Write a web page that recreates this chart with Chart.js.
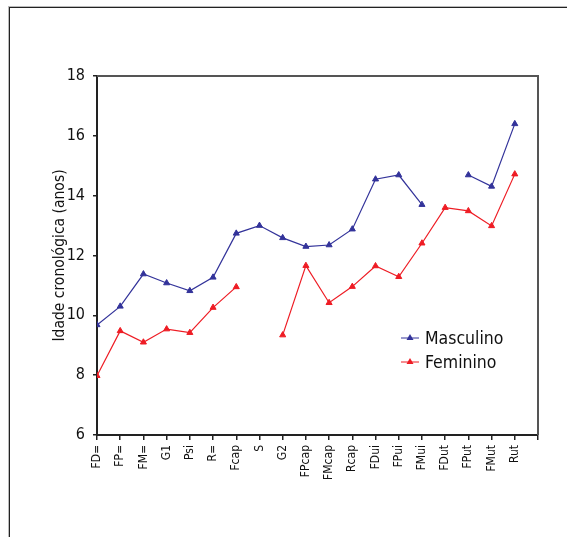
<!DOCTYPE html>
<html>
<head>
<meta charset="utf-8">
<script src="https://cdn.jsdelivr.net/npm/chart.js@4.4.1/dist/chart.umd.min.js"></script>
<style>
  html, body { margin: 0; padding: 0; background: #fff; overflow: hidden; }
  #wrap { position: relative; width: 567px; height: 537px; }
  #frame { position: absolute; left: 9px; top: 7px; width: 600px; height: 600px;
           border: 1px solid #222; box-shadow: -1px -1px 0 #bbb; }
  canvas { position: absolute; left: 0; top: 0; }
</style>
</head>
<body>
<div id="wrap">
  <div id="frame"></div>
  <canvas id="idadeChart" width="567" height="537"></canvas>
</div>
<script>
const categorias = ["FD=", "FP=", "FM=", "G1", "Psi", "R=", "Fcap", "S", "G2", "FPcap",
    "FMcap", "Rcap", "FDui", "FPui", "FMui", "FDut", "FPut", "FMut", "Rut"];

const masculino = [9.68, 10.3, 11.38, 11.08, 10.82, 11.27, 12.74, 13.0, 12.59, 12.3,
    12.35, 12.88, 14.55, 14.69, 13.7, null, 14.69, 14.31, 16.4];

const feminino = [7.98, 9.48, 9.1, 9.54, 9.42, 10.26, 10.95, null, 9.34, 11.66,
    10.42, 10.96, 11.65, 11.29, 12.41, 13.6, 13.49, 12.99, 14.72];

const yTicks = [6, 8, 10, 12, 14, 16, 18];

const fonte = '"Liberation Sans Narrow", "DejaVu Sans Condensed", Arial, sans-serif';

const azul = '#33339a';
const vermelho = '#ee1c24';

// moldura do grafico (topo e direita)
const molduraPlugin = {
    id: 'moldura',
    beforeDatasetsDraw: (chart) => {
        const { ctx, chartArea: { left, right, top, bottom } } = chart;
        ctx.save();
        ctx.strokeStyle = '#555';
        ctx.lineWidth = 2;
        ctx.beginPath();
        ctx.moveTo(left, top);
        ctx.lineTo(right, top);
        ctx.lineTo(right, bottom);
        ctx.stroke();
        ctx.restore();
    }
};

// legenda dentro da area do grafico
const legendaPlugin = {
    id: 'legendaInterna',
    afterDraw: (chart) => {
        const { ctx } = chart;
        const itens = chart.data.datasets;
        const x0 = 401, y0 = 338, passo = 24;
        ctx.save();
        itens.forEach((ds, i) => {
            const y = y0 + i * passo;
            ctx.strokeStyle = ds.borderColor;
            ctx.lineWidth = 1;
            ctx.beginPath();
            ctx.moveTo(x0, y);
            ctx.lineTo(x0 + 18, y);
            ctx.stroke();
            ctx.fillStyle = ds.borderColor;
            ctx.beginPath();
            ctx.moveTo(x0 + 9, y - 4);
            ctx.lineTo(x0 + 12.5, y + 2);
            ctx.lineTo(x0 + 5.5, y + 2);
            ctx.closePath();
            ctx.fill();
            ctx.fillStyle = '#111';
            ctx.font = '17.5px ' + fonte;
            ctx.textBaseline = 'middle';
            ctx.fillText(ds.label, x0 + 24, y + 1);
        });
        ctx.restore();
    }
};

const ctx = document.getElementById('idadeChart').getContext('2d');

const idadeChart = new Chart(ctx, {
    type: 'line',
    data: {
        labels: categorias,
        datasets: [
            {
                label: 'Masculino',
                data: masculino.map((v, i) => ({ x: i, y: v })),
                borderColor: azul,
                backgroundColor: azul,
                borderWidth: 1.2,
                pointStyle: 'triangle',
                pointRadius: 3.5,
                pointBorderWidth: 1,
                tension: 0,
                spanGaps: false
            },
            {
                label: 'Feminino',
                data: feminino.map((v, i) => ({ x: i, y: v })),
                borderColor: vermelho,
                backgroundColor: vermelho,
                borderWidth: 1.2,
                pointStyle: 'triangle',
                pointRadius: 3.5,
                pointBorderWidth: 1,
                tension: 0,
                spanGaps: false
            }
        ]
    },
    options: {
        responsive: false,
        animation: false,
        layout: { padding: { top: 76, right: 29, left: 0, bottom: 0 } },
        plugins: {
            legend: { display: false },
            tooltip: { enabled: false }
        },
        scales: {
            x: {
                type: 'linear',
                min: 0,
                max: 19,
                afterBuildTicks: (scale) => {
                    scale.ticks = categorias.map((c, i) => ({ value: i })).concat([{ value: 19 }]);
                },
                afterFit: (scale) => { scale.height = 102; },
                grid: {
                    drawOnChartArea: false,
                    drawTicks: true,
                    tickLength: 5,
                    color: '#222',
                    lineWidth: 1.5
                },
                border: { color: '#222', width: 2 },
                ticks: {
                    autoSkip: false,
                    maxRotation: 90,
                    minRotation: 90,
                    padding: 5,
                    color: '#111',
                    font: { family: fonte, size: 12 },
                    callback: (v) => categorias[v] || ''
                }
            },
            y: {
                min: 6,
                max: 18,
                afterBuildTicks: (scale) => {
                    scale.ticks = yTicks.map(v => ({ value: v }));
                },
                afterFit: (scale) => { scale.width = 97; },
                grid: {
                    drawOnChartArea: false,
                    drawTicks: true,
                    tickLength: 4,
                    color: '#222',
                    lineWidth: 1.5
                },
                border: { color: '#222', width: 2 },
                ticks: {
                    padding: 8,
                    color: '#111',
                    font: { family: fonte, size: 16 }
                },
                title: {
                    display: true,
                    text: 'Idade cronológica (anos)',
                    color: '#111',
                    font: { family: fonte, size: 15.5 },
                    padding: { top: 51, bottom: 0 }
                }
            }
        }
    },
    plugins: [molduraPlugin, legendaPlugin]
});
</script>
</body>
</html>
